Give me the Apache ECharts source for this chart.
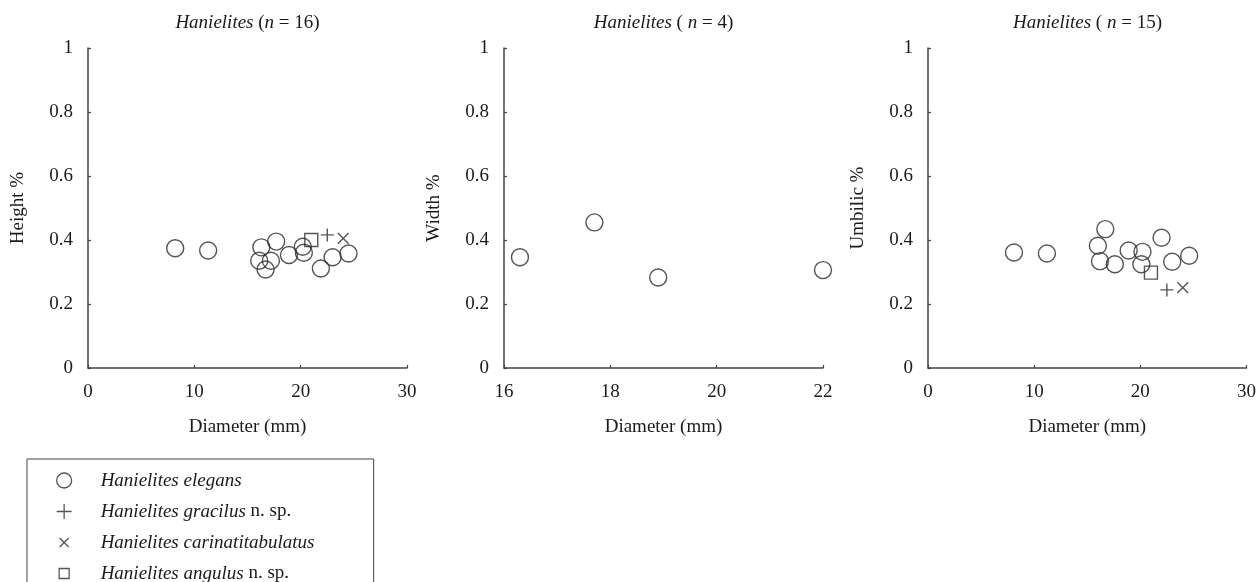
<!DOCTYPE html>
<html>
<head>
<meta charset="utf-8">
<script src="https://cdn.jsdelivr.net/npm/echarts@6/dist/echarts.min.js"></script>
<style>
  html, body { margin: 0; padding: 0; background: #fff; }
  #chart { width: 1259px; height: 582px; }
</style>
</head>
<body>
<div id="chart"></div>
<script>
// Shell proportions of Hanielites against shell diameter (mm)

const speciesNames = [
  'Hanielites elegans',
  'Hanielites gracilus n. sp.',
  'Hanielites carinatitabulatus',
  'Hanielites angulus n. sp.'
];

// Panel titles: sample sizes
const panelCounts = [16, 4, 15];
const panelTitleTemplates = [
  '{i|Hanielites} ({i|n} = 16)',
  '{i|Hanielites} ( {i|n} = 4)',
  '{i|Hanielites} ( {i|n} = 15)'
];
const yAxisNames = ['Height %', 'Width %', 'Umbilic %'];
const xAxisName = 'Diameter (mm)';

// x-axis ranges [min, max, interval]
const xRanges = [[0, 30, 10], [16, 22, 2], [0, 30, 10]];
const yRange = [0, 1, 0.2];

// Height % panel
const heightElegansDiam = [8.2, 11.3, 16.3, 17.7, 16.1, 17.2, 16.7, 18.9, 20.2, 20.3, 21.9, 23.0, 24.5];
const heightElegansVal  = [0.374, 0.367, 0.377, 0.395, 0.335, 0.335, 0.308, 0.353, 0.379, 0.360, 0.311, 0.346, 0.358];
const heightGracilusDiam = [22.5];
const heightGracilusVal  = [0.416];
const heightCarinatiDiam = [24.0];
const heightCarinatiVal  = [0.405];
const heightAngulusDiam  = [21.0];
const heightAngulusVal   = [0.400];

// Width % panel
const widthElegansDiam = [16.3, 17.7, 18.9, 22.0];
const widthElegansVal  = [0.346, 0.455, 0.283, 0.306];

// Umbilic % panel
const umbElegansDiam = [8.1, 11.2, 16.7, 16.0, 16.2, 17.6, 18.9, 20.2, 20.1, 22.0, 23.0, 24.6];
const umbElegansVal  = [0.361, 0.358, 0.434, 0.382, 0.334, 0.324, 0.367, 0.363, 0.324, 0.407, 0.332, 0.351];
const umbGracilusDiam = [22.5];
const umbGracilusVal  = [0.244];
const umbCarinatiDiam = [24.0];
const umbCarinatiVal  = [0.251];
const umbAngulusDiam  = [21.0];
const umbAngulusVal   = [0.298];

const FONT = "'Liberation Serif', 'Times New Roman', serif";
const INK = '#1a1a1a';
const AXIS = '#444';
const MARK = '#2a2a2a';

// Marker shapes (paths padded with extra moveTo points so the visible glyph is smaller than its box)
const markers = [
  { symbol: 'circle', size: 17 },
  { symbol: 'path://M0,5L10,5M5,0L5,10', size: 13 },
  { symbol: 'path://M-3.3,-3.3M13.3,13.3M0,0L10,10M10,0L0,10', size: 18 },
  { symbol: 'path://M-2.5,-2.5M12.5,12.5M0,0L10,0L10,10L0,10Z', size: 19.5 }
];

const panels = [
  [
    [heightElegansDiam, heightElegansVal],
    [heightGracilusDiam, heightGracilusVal],
    [heightCarinatiDiam, heightCarinatiVal],
    [heightAngulusDiam, heightAngulusVal]
  ],
  [
    [widthElegansDiam, widthElegansVal]
  ],
  [
    [umbElegansDiam, umbElegansVal],
    [umbGracilusDiam, umbGracilusVal],
    [umbCarinatiDiam, umbCarinatiVal],
    [umbAngulusDiam, umbAngulusVal]
  ]
];

const gridLefts = [88, 504, 928];
const gridWidth = 319;
const gridTop = 48;
const gridHeight = 320;

const grids = gridLefts.map(l => ({
  left: l, top: gridTop, width: gridWidth, height: gridHeight
}));

const xAxes = xRanges.map((r, k) => ({
  type: 'value',
  gridIndex: k,
  min: r[0], max: r[1], interval: r[2],
  name: xAxisName,
  nameLocation: 'middle',
  nameGap: 50,
  nameTextStyle: { fontFamily: FONT, fontSize: 19, color: INK },
  axisLine: { show: true, onZero: false, lineStyle: { color: AXIS, width: 1.5 } },
  axisTick: { show: true, inside: true, length: 3, lineStyle: { color: AXIS, width: 1.2 } },
  axisLabel: { margin: 15, fontFamily: FONT, fontSize: 19, color: INK },
  splitLine: { show: false }
}));

const yAxes = yAxisNames.map((n, k) => ({
  type: 'value',
  gridIndex: k,
  min: yRange[0], max: yRange[1], interval: yRange[2],
  name: n,
  nameLocation: 'middle',
  nameGap: 60,
  nameTextStyle: { fontFamily: FONT, fontSize: 19, color: INK },
  axisLine: { show: true, onZero: false, lineStyle: { color: AXIS, width: 1.5 } },
  axisTick: { show: true, inside: true, length: 3, lineStyle: { color: AXIS, width: 1.2 } },
  axisLabel: {
    margin: 15, fontFamily: FONT, fontSize: 19, color: INK,
    formatter: v => String(+v.toFixed(1))
  },
  splitLine: { show: false }
}));

const series = [];
panels.forEach((panel, k) => {
  panel.forEach((pair, s) => {
    const [diam, val] = pair;
    series.push({
      type: 'scatter',
      name: speciesNames[s],
      xAxisIndex: k,
      yAxisIndex: k,
      clip: false,
      symbol: markers[s].symbol,
      symbolSize: markers[s].size,
      itemStyle: { color: 'transparent', borderColor: MARK, borderWidth: 1.4 },
      emphasis: { disabled: true },
      data: diam.map((d, i) => [d, val[i]])
    });
  });
});

const italicRich = { fontFamily: FONT, fontSize: 19, fontStyle: 'italic', fill: INK };

const titleGraphics = panelTitleTemplates.map((t, k) => ({
  type: 'text',
  x: gridLefts[k] + gridWidth / 2,
  y: 23,
  silent: true,
  style: {
    text: t,
    align: 'center',
    verticalAlign: 'middle',
    fontFamily: FONT,
    fontSize: 19,
    fill: INK,
    rich: { i: italicRich }
  }
}));

const option = {
  animation: false,
  backgroundColor: '#fff',
  grid: grids,
  xAxis: xAxes,
  yAxis: yAxes,
  series: series,
  graphic: titleGraphics,
  legend: {
    orient: 'vertical',
    left: 27,
    top: 459,
    height: 160,
    padding: [12, 10, 14, 29],
    itemGap: 12,
    itemWidth: 15,
    itemHeight: 15,
    selectedMode: false,
    borderColor: AXIS,
    borderWidth: 1,
    data: speciesNames,
    itemStyle: { color: 'transparent', borderColor: MARK, borderWidth: 1.3 },
    formatter: name => {
      const m = name.match(/^(.*?)( n\. sp\.)?$/);
      return '{sp| }{i|' + m[1] + '}' + (m[2] ? '{r|' + m[2] + '}' : '');
    },
    textStyle: {
      width: 287,
      lineHeight: 18,
      fontFamily: FONT,
      fontSize: 19,
      color: INK,
      rich: {
        sp: { width: 24, fontSize: 19 },
        i: { fontFamily: FONT, fontSize: 19, fontStyle: 'italic', color: INK },
        r: { fontFamily: FONT, fontSize: 19, color: INK }
      }
    }
  }
};

const chart = echarts.init(document.getElementById('chart'), null, { renderer: 'canvas' });
chart.setOption(option);
</script>
</body>
</html>
